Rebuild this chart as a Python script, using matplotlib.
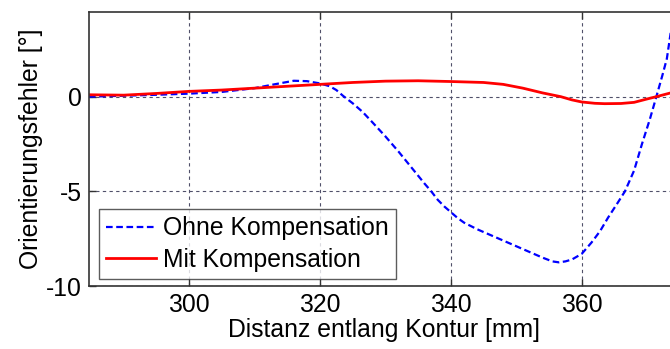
import matplotlib
matplotlib.use("Agg")
import matplotlib.pyplot as plt

plt.rcParams["font.family"] = ["Liberation Sans", "DejaVu Sans"]
plt.rcParams["axes.unicode_minus"] = False

# Orientierungsfehler entlang der Kontur
dist_ohne = [284.7, 290, 295, 300, 305, 310, 313, 316, 318, 320, 321.5, 322.5,
             323.5, 325, 326.5, 328, 330, 332, 334, 336, 337, 338, 339, 340,
             341, 342, 344, 346, 348, 350, 352, 354, 355.5, 356.5, 357.5,
             358.5, 360, 361.5, 362.8, 364, 365.5, 366.6, 368, 369.2, 370.4,
             371.4, 372.3, 373, 373.6]
fehler_ohne = [0.0, 0.05, 0.1, 0.16, 0.25, 0.45, 0.65, 0.84, 0.82, 0.7, 0.55,
               0.35, 0.05, -0.35, -0.8, -1.35, -2.1, -2.9, -3.75, -4.6, -5.0,
               -5.45, -5.8, -6.1, -6.4, -6.65, -7.0, -7.3, -7.6, -7.9, -8.2,
               -8.5, -8.7, -8.75, -8.7, -8.6, -8.3, -7.7, -7.1, -6.4, -5.6,
               -5.0, -3.9, -2.5, -1.2, 0.0, 1.1, 2.0, 3.4]

dist_mit = [284.7, 290, 295, 300, 305, 310, 315, 320, 325, 330, 335, 340,
            345, 348, 351, 354, 356.8, 358.5, 360, 362, 363.5, 366, 368, 370,
            371.4, 372.5, 373.6]
fehler_mit = [0.1, 0.08, 0.17, 0.28, 0.35, 0.45, 0.55, 0.65, 0.75, 0.82, 0.84,
              0.8, 0.75, 0.65, 0.45, 0.2, 0.0, -0.17, -0.28, -0.35, -0.37,
              -0.36, -0.3, -0.12, 0.0, 0.1, 0.2]

fig = plt.figure(figsize=(6.7, 3.49), dpi=100)
ax = fig.add_axes([0.1328, 0.1805, 0.882, 0.785])

ax.plot(dist_ohne, fehler_ohne, color="#0000ff", linestyle=(0, (3, 1.6)),
        linewidth=1.6, label="Ohne Kompensation")
ax.plot(dist_mit, fehler_mit, color="#ff0000", linewidth=2.0,
        label="Mit Kompensation")

ax.set_xlim(284.7, 375)
ax.set_ylim(-10, 4.47)
ax.set_xticks([300, 320, 340, 360])
ax.set_yticks([-10, -5, 0])

ax.grid(True, color="#50506a", linestyle=(0, (3, 3)), linewidth=0.8)
ax.tick_params(direction="in", top=True, right=True, length=5, width=1,
               color="#333333", labelsize=17.8, pad=5)
for sp in ax.spines.values():
    sp.set_color("#333333")
    sp.set_linewidth(1.2)

ax.set_xlabel("Distanz entlang Kontur [mm]", fontsize=17.8, labelpad=1)
ax.set_ylabel("Orientierungsfehler [°]", fontsize=17.8, labelpad=2)

leg = ax.legend(loc="lower left", bbox_to_anchor=(0.017, 0.025), fontsize=17.8,
                frameon=True, fancybox=False, handlelength=2.0,
                handletextpad=0.3, borderpad=0.3, labelspacing=0.3,
                borderaxespad=0)
leg.get_frame().set_edgecolor("#333333")
leg.get_frame().set_linewidth(1.0)

fig.savefig("out.png", dpi=100)
